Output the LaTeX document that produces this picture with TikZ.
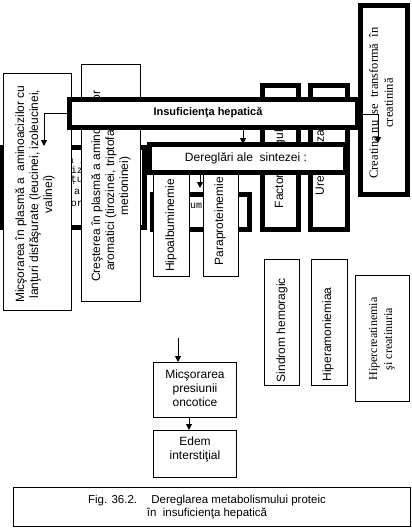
\documentclass[tikz,border=0pt]{standalone}
\usepackage{fontspec}
\setmainfont{Liberation Sans}
\newfontfamily\serifnf{Liberation Serif}
\newfontfamily\mononf{Liberation Mono}
\usetikzlibrary{arrows.meta}
\begin{document}
\begin{tikzpicture}[x=1pt,y=-1pt,
  thinbox/.style={draw,line width=1pt,fill=white,inner sep=0pt},
  thickbox/.style={draw,line width=5pt,fill=white,inner sep=0pt},
  txt/.style={inner sep=0pt,align=center,font=\fontsize{12}{14}\selectfont},
  vtxt/.style={txt,rotate=90},
  stxt/.style={inner sep=0pt,align=center,font=\serifnf\fontsize{12.5}{15}\selectfont,rotate=90},
  frag/.style={inner sep=0pt,font=\mononf\fontsize{10}{10}\selectfont},
  arr/.style={-{Triangle[width=6pt,length=6pt]},line width=1pt}]
\useasboundingbox (0,0) rectangle (412,528);
% hidden layer
\node[thickbox,minimum width=144pt,minimum height=80pt] (hidL) at (72.5,187.5) {};
\node[frag] (f1) at (77,160) {a i};
\node[frag] (f2) at (77,170) {iz};
\node[frag] (f3) at (77,180) {ţu};
\node[frag] (f4) at (77,192) {a};
\node[frag] (f5) at (77,204) {or};
\node[thickbox,minimum width=97pt,minimum height=35pt] (hidU) at (201,212) {};
\node[frag] (f6) at (196,206) {um};
\node[thickbox,minimum width=36pt,minimum height=144pt] (facto) at (280.5,157.5) {};
\node[vtxt] (tfacto) at (280,161) {Factorii coagulării};
\node[thickbox,minimum width=37pt,minimum height=144pt] (ure) at (329,157.5) {};
\node[vtxt] (ture) at (321,162.5) {Ureogeneza};
% thin boxes at left
\node[thinbox,minimum width=68pt,minimum height=237pt] (mic) at (37.5,192) {};
\node[vtxt] (tmic) at (35,194) {Micşorarea în plasmă a \ aminoacizilor cu\\lanţuri disfăşurate (leucinei, izoleucinei,\\valinei)};
\node[thinbox,minimum width=59pt,minimum height=237pt] (cre) at (111,183) {};
\node[vtxt] (tcre) at (111,186) {Creşterea în plasmă a aminoacizilor\\aromatici (tirozinei, triptofanului,\\metioninei)};
\node[thinbox,minimum width=36pt,minimum height=116pt] (hipo) at (171.5,218.5) {};
\node[vtxt] (thipo) at (171,225.5) {Hipoalbuminemie};
\node[thinbox,minimum width=35pt,minimum height=116pt] (para) at (221,218.5) {};
\node[vtxt] (tpara) at (220,221) {Paraproteinemie};
% main thick boxes
\node[thickbox,minimum width=288pt,minimum height=28pt] (insuf) at (213.5,113.5) {};
\node[txt,font=\bfseries\fontsize{11}{13}\selectfont] (tinsuf) at (208,112.5) {Insuficienţa hepatică};
\node[thickbox,minimum width=47pt,minimum height=189pt] (creat) at (384,100) {};
\node[stxt] (tcreat) at (381,103) {Creatina nu \ se \ transformă \ în\\creatinină};
\node[thickbox,minimum width=196pt,minimum height=28pt] (dereg) at (247.5,158.5) {};
\node[txt] (tdereg) at (246,158) {Dereglări ale \ sintezei :};
% arrows
\coordinate (aL) at (44,146);
\draw[arr] (insuf.west) -| (aL);
\coordinate (aM) at (243,144);
\draw[arr] (insuf.south -| aM) -- (aM);
\coordinate (aR0) at (355,114);
\coordinate (aR) at (378,143);
\draw[arr] (aR0) -| (aR);
\coordinate (aD) at (200,188);
\draw[arr] (dereg.south -| aD) -- (aD);
% right lower boxes
\node[thinbox,minimum width=35pt,minimum height=126pt] (sind) at (282,322.5) {};
\node[vtxt] (tsind) at (282,330) {Sindrom hemoragic};
\node[thinbox,minimum width=36pt,minimum height=126pt] (hamon) at (329.5,322.5) {};
\node[vtxt] (thamon) at (328,334.5) {Hiperamoniemiaa};
\node[thinbox,minimum width=54pt,minimum height=126pt] (hcrea) at (382.5,338.5) {};
\node[stxt,font=\serifnf\fontsize{12}{15}\selectfont] (thcrea) at (382,339) {Hipercreatinemia\\şi creatinuria};
% lower chain
\node[thinbox,minimum width=83pt,minimum height=55pt] (mpres) at (195,390) {};
\node[txt] (tmpres) at (195,388) {Micşorarea\\presiunii\\oncotice};
\node[thinbox,minimum width=83pt,minimum height=47pt] (edem) at (195,454) {};
\node[txt] (tedem) at (195,449) {Edem\\interstiţial};
\coordinate (aP0) at (178,338);
\draw[arr] (aP0) -- (mpres.north -| aP0);
\coordinate (xe) at (189,0);
\draw[arr] (mpres.south -| xe) -- (edem.north -| xe);
% caption
\node[thinbox,minimum width=397pt,minimum height=39pt] (cap) at (212,507) {};
\node[txt,font=\fontsize{11.5}{13.5}\selectfont] (tcap) at (207,507) {Fig. 36.2.\hspace{10pt} Dereglarea metabolismului proteic\\în \ insuficienţa hepatică};
\end{tikzpicture}
\end{document}
